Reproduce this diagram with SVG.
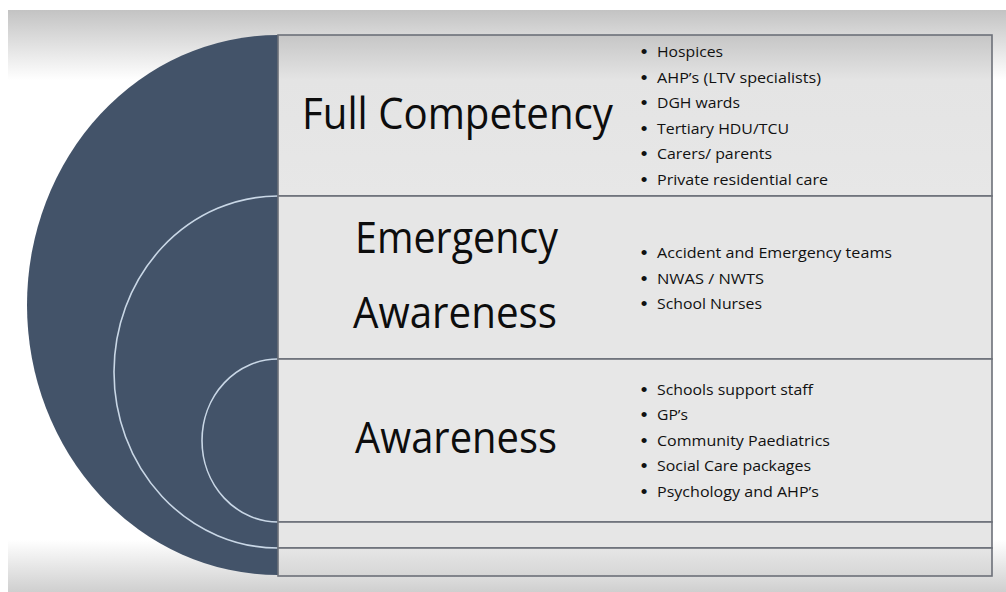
<svg xmlns="http://www.w3.org/2000/svg" width="1006" height="592" viewBox="0 0 1006 592">
  <defs>
    <linearGradient id="topShade" x1="0" y1="0" x2="0" y2="1">
      <stop offset="0" stop-color="#c3c3c3"/>
      <stop offset="1" stop-color="#ffffff"/>
    </linearGradient>
    <linearGradient id="bottomShade" x1="0" y1="0" x2="0" y2="1">
      <stop offset="0" stop-color="#ffffff"/>
      <stop offset="1" stop-color="#cfcfcf"/>
    </linearGradient>
    <linearGradient id="rowTop" x1="0" y1="0" x2="0" y2="1">
      <stop offset="0" stop-color="#c6c6c6"/>
      <stop offset="0.28" stop-color="#e4e4e4"/>
      <stop offset="1" stop-color="#e7e7e7"/>
    </linearGradient>
    <linearGradient id="rowBottom" x1="0" y1="0" x2="0" y2="1">
      <stop offset="0" stop-color="#e6e6e6"/>
      <stop offset="1" stop-color="#d6d6d6"/>
    </linearGradient>
  </defs>
  <style>
    .row { stroke: #6c7079; stroke-width: 1.6; }
    .ring { fill: none; stroke: #c9d7e6; stroke-width: 1.6; }
    .head { font-family: "Open Sans", "Liberation Sans", sans-serif; font-size: 43px; fill: #0d0d0d; }
    .item { font-family: "Open Sans", "Liberation Sans", sans-serif; font-size: 15px; fill: #111111; }
    .dot { font-family: "Liberation Sans", sans-serif; font-size: 19px; fill: #111111; text-anchor: middle; }
  </style>

  <!-- page background with soft shading at top and bottom -->
  <rect x="0" y="0" width="1006" height="592" fill="#ffffff"/>
  <rect x="8" y="10" width="998" height="70" fill="url(#topShade)"/>
  <rect x="8" y="540" width="998" height="52" fill="url(#bottomShade)"/>

  <!-- dark half disc with concentric level rings -->
  <g id="levels-disc">
    <path d="M278,35 A251,270 0 0 0 278,575 Z" fill="#435369"/>
    <path class="ring" d="M278,196 A164,176 0 0 0 278,548"/>
    <path class="ring" d="M278,359 A76,81.5 0 0 0 278,522"/>
  </g>

  <!-- level rows -->
  <g id="row-full-competency">
    <rect class="row" x="278" y="35" width="714" height="161" fill="url(#rowTop)"/>
    <text class="head" x="302" y="129" textLength="311" lengthAdjust="spacingAndGlyphs">Full Competency</text>
    <text class="dot" x="644" y="58">•</text>
    <text class="item" x="657" y="57" textLength="66" lengthAdjust="spacingAndGlyphs">Hospices</text>
    <text class="dot" x="644" y="83.5">•</text>
    <text class="item" x="657" y="82.5" textLength="164" lengthAdjust="spacingAndGlyphs">AHP’s (LTV specialists)</text>
    <text class="dot" x="644" y="109">•</text>
    <text class="item" x="657" y="108" textLength="83" lengthAdjust="spacingAndGlyphs">DGH wards</text>
    <text class="dot" x="644" y="134.5">•</text>
    <text class="item" x="657" y="133.5" textLength="132" lengthAdjust="spacingAndGlyphs">Tertiary HDU/TCU</text>
    <text class="dot" x="644" y="160">•</text>
    <text class="item" x="657" y="159" textLength="115" lengthAdjust="spacingAndGlyphs">Carers/ parents</text>
    <text class="dot" x="644" y="185.5">•</text>
    <text class="item" x="657" y="184.5" textLength="171" lengthAdjust="spacingAndGlyphs">Private residential care</text>
  </g>

  <g id="row-emergency-awareness">
    <rect class="row" x="278" y="196" width="714" height="163" fill="#e6e6e6"/>
    <text class="head" x="355" y="253" textLength="203" lengthAdjust="spacingAndGlyphs">Emergency</text>
    <text class="head" x="353" y="328" textLength="204" lengthAdjust="spacingAndGlyphs">Awareness</text>
    <text class="dot" x="644" y="259">•</text>
    <text class="item" x="657" y="258" textLength="235" lengthAdjust="spacingAndGlyphs">Accident and Emergency teams</text>
    <text class="dot" x="644" y="284.5">•</text>
    <text class="item" x="657" y="283.5" textLength="107" lengthAdjust="spacingAndGlyphs">NWAS / NWTS</text>
    <text class="dot" x="644" y="310">•</text>
    <text class="item" x="657" y="309" textLength="105" lengthAdjust="spacingAndGlyphs">School Nurses</text>
  </g>

  <g id="row-awareness">
    <rect class="row" x="278" y="359" width="714" height="163" fill="#e7e7e7"/>
    <text class="head" x="355" y="453" textLength="202" lengthAdjust="spacingAndGlyphs">Awareness</text>
    <text class="dot" x="644" y="395.5">•</text>
    <text class="item" x="657" y="394.5" textLength="156" lengthAdjust="spacingAndGlyphs">Schools support staff</text>
    <text class="dot" x="644" y="421">•</text>
    <text class="item" x="657" y="420" textLength="31" lengthAdjust="spacingAndGlyphs">GP’s</text>
    <text class="dot" x="644" y="446.5">•</text>
    <text class="item" x="657" y="445.5" textLength="173" lengthAdjust="spacingAndGlyphs">Community Paediatrics</text>
    <text class="dot" x="644" y="472">•</text>
    <text class="item" x="657" y="471" textLength="154" lengthAdjust="spacingAndGlyphs">Social Care packages</text>
    <text class="dot" x="644" y="497.5">•</text>
    <text class="item" x="657" y="496.5" textLength="162" lengthAdjust="spacingAndGlyphs">Psychology and AHP’s</text>
  </g>

  <g id="row-blank-1">
    <rect class="row" x="278" y="522" width="714" height="26" fill="#e6e6e6"/>
  </g>
  <g id="row-blank-2">
    <rect class="row" x="278" y="548" width="714" height="28" fill="url(#rowBottom)"/>
  </g>
</svg>
